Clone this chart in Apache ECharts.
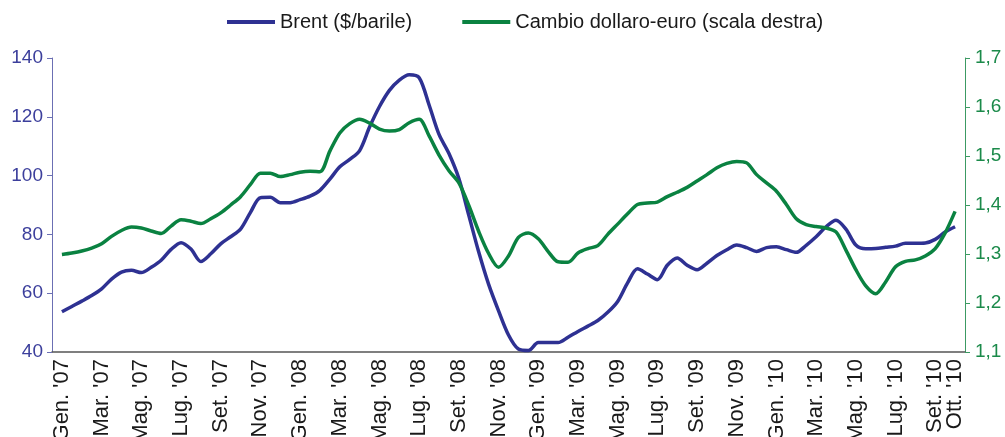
<!DOCTYPE html>
<html>
<head>
<meta charset="utf-8">
<script src="https://cdn.jsdelivr.net/npm/echarts@6/dist/echarts.min.js"></script>
<style>
  html, body { margin: 0; padding: 0; background: #fff; }
  #chart { width: 1005px; height: 437px; }
</style>
</head>
<body>
<div id="chart"></div>
<script>
// half-month readings, Gen. '07 -> Ott. '10
var brent = [
  53.7, 55.5, 57.3, 59.2, 61.5, 64.8, 67.2, 67.8, 67.0, 68.8,
  71.2, 74.9, 77.2, 75.0, 70.8, 73.4, 76.8, 79.2, 81.8, 87.5,
  92.5, 92.6, 90.8, 90.8, 91.8, 93.0, 95.0, 98.8, 103, 105.5,
  108.5, 116.5, 123.5, 129, 132.5, 134.3, 133.3, 124, 114, 107.5,
  99, 86.5, 74, 63, 54, 45.8, 41, 40.5, 43.2, 43.2,
  43.2, 45, 47, 48.8, 50.7, 53.5, 57.2, 63.5, 68.3, 66.5,
  64.6, 69.5, 72, 69.5, 68, 70.2, 72.8, 74.8, 76.4, 75.5,
  74.2, 75.5, 75.8, 74.8, 73.9, 76.3, 79.2, 82.6, 84.8, 81.8,
  76.4, 75.1, 75.2, 75.6, 76.0, 77.0, 77.0, 77.1, 78.3, 80.8,
  82.6
];
var cambio = [
  1.299, 1.302, 1.306, 1.312, 1.321, 1.336, 1.348, 1.355, 1.353, 1.347,
  1.342, 1.357, 1.370, 1.367, 1.362, 1.372, 1.384, 1.400, 1.417, 1.442,
  1.465, 1.465, 1.458, 1.462, 1.467, 1.469, 1.468, 1.510, 1.547, 1.566,
  1.575, 1.567, 1.555, 1.551, 1.554, 1.568, 1.575, 1.541, 1.502, 1.470,
  1.445, 1.399, 1.346, 1.301, 1.273, 1.296, 1.334, 1.343, 1.331, 1.305,
  1.284, 1.283, 1.302, 1.311, 1.317, 1.340, 1.361, 1.382, 1.401, 1.404,
  1.406, 1.417, 1.426, 1.436, 1.449, 1.462, 1.476, 1.485, 1.489, 1.486,
  1.462, 1.445, 1.428, 1.401, 1.372, 1.360, 1.356, 1.353, 1.345, 1.308,
  1.268, 1.235, 1.219, 1.243, 1.274, 1.285, 1.288, 1.296, 1.311, 1.343,
  1.387
];
// one label every two months, plus the last month
var tickLabels = [
  "Gen. '07", "Mar. '07", "Mag. '07", "Lug. '07", "Set. '07", "Nov. '07",
  "Gen. '08", "Mar. '08", "Mag. '08", "Lug. '08", "Set. '08", "Nov. '08",
  "Gen. '09", "Mar. '09", "Mag. '09", "Lug. '09", "Set. '09", "Nov. '09",
  "Gen. '10", "Mar. '10", "Mag. '10", "Lug. '10", "Set. '10"
];
var lastLabel = "Ott. '10";

var blue = '#2e3192';
var green = '#0a8241';

var myChart = echarts.init(document.getElementById('chart'));
myChart.setOption({
  animation: false,
  legend: {
    top: 7,
    left: 222,
    itemWidth: 48,
    itemHeight: 4,
    itemGap: 50,
    icon: 'rect',
    textStyle: { fontFamily: 'Liberation Sans', fontSize: 20, color: '#1a1a1a' },
    data: ['Brent ($/barile)', 'Cambio dollaro-euro (scala destra)']
  },
  grid: { left: 52, right: 40, top: 58, bottom: 85, outerBoundsMode: 'none', containLabel: false },
  xAxis: {
    type: 'value',
    min: 0,
    max: 92,
    interval: 1,
    splitLine: { show: false },
    axisTick: { show: false },
    axisLine: { lineStyle: { color: '#555', width: 1.5 } },
    axisLabel: {
      rotate: 90,
      margin: 7,
      fontFamily: 'Liberation Sans',
      fontSize: 22,
      color: '#1a1a1a',
      showMinLabel: false,
      showMaxLabel: false,
      formatter: function (u) {
        if (u === 91) return lastLabel;
        if ((u - 1) % 4 === 0) return tickLabels[(u - 1) / 4] || '';
        return '';
      }
    }
  },
  yAxis: [
    {
      type: 'value',
      min: 40,
      max: 140,
      interval: 20,
      splitLine: { show: false },
      axisLine: { show: true, lineStyle: { color: '#6b6fb3', width: 1 } },
      axisTick: { show: true, length: 5, lineStyle: { color: '#6b6fb3' } },
      axisLabel: { margin: 9, fontFamily: 'Liberation Sans', fontSize: 19, color: '#3c3f9c' }
    },
    {
      type: 'value',
      position: 'right',
      min: 1.1,
      max: 1.7,
      interval: 0.1,
      splitLine: { show: false },
      axisLine: { show: true, lineStyle: { color: '#3c9a63', width: 1 } },
      axisTick: { show: true, length: 5, lineStyle: { color: '#3c9a63' } },
      axisLabel: {
        margin: 10,
        fontFamily: 'Liberation Sans',
        fontSize: 19,
        color: '#1b8a4a',
        formatter: function (v) { return v.toFixed(1).replace('.', ','); }
      }
    }
  ],
  series: [
    {
      name: 'Brent ($/barile)',
      type: 'line',
      yAxisIndex: 0,
      symbol: 'none',
      smooth: 0.3,
      color: blue,
      lineStyle: { width: 3.5, color: blue },
      data: brent.map(function (v, i) { return [i + 1, v]; })
    },
    {
      name: 'Cambio dollaro-euro (scala destra)',
      type: 'line',
      yAxisIndex: 1,
      symbol: 'none',
      smooth: 0.3,
      color: green,
      lineStyle: { width: 3.5, color: green },
      data: cambio.map(function (v, i) { return [i + 1, v]; })
    }
  ]
});
</script>
</body>
</html>
